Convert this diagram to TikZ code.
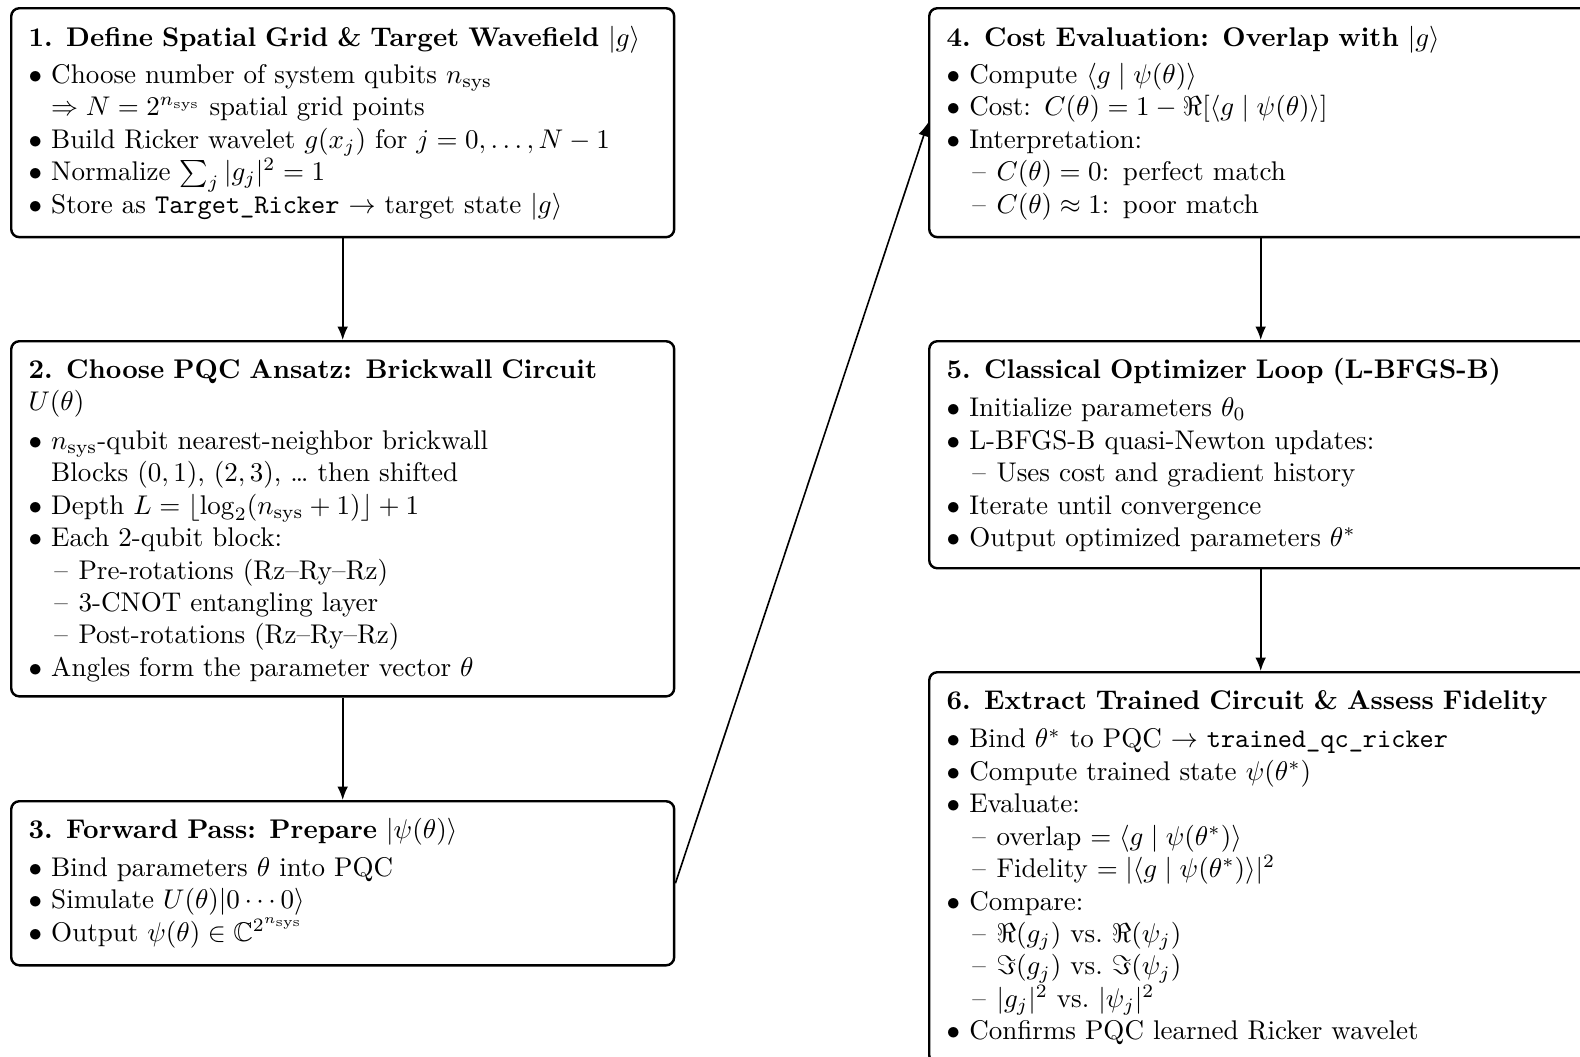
\documentclass[tikz,border=0pt]{standalone}
\usepackage{amsmath,amssymb}
\usetikzlibrary{arrows.meta}
% list helpers: bullet item, dash sub-item, continuation line
\newcommand{\bitem}{\makebox[8.4pt][l]{$\bullet$}}
\newcommand{\sitem}{\hspace*{9.6pt}\makebox[8.9pt][l]{--}}
\newcommand{\cont}{\hspace*{8.4pt}}
\newcommand{\nsys}{n_{\mathrm{sys}}}

\begin{document}
\begin{tikzpicture}[x=0.37pt,y=-0.37pt,
  stage/.style={draw=black, line width=0.9pt, rounded corners=3pt, inner sep=0pt,
                anchor=north west, minimum width=245.3pt},
  body/.style={anchor=base west, inner sep=0pt, text width=240pt, align=left, font=\normalsize},
  flow/.style={line width=0.6pt, -{Latex[length=5pt,width=4pt]}}]
\useasboundingbox (0,0) rectangle (1580,1056);
\clip (0,0) rectangle (1580,1056);

% ---- stage frames ----
\node[stage, minimum height=84.7pt]  (b1) at (10,7) {};
\node[stage, minimum height=131.4pt] (b2) at (10,340) {};
\node[stage, minimum height=60.7pt]  (b3) at (10,800) {};
\node[stage, minimum height=84.7pt]  (b4) at (928,7) {};
\node[stage, minimum height=84.0pt]  (b5) at (928,340) {};
\node[stage, minimum height=144.7pt] (b6) at (928,671) {};

% ---- stage contents ----
\node[body] (t1) at ([shift={(18,39)}]b1.north west) {%
\textbf{1. Define Spatial Grid \& Target Wavefield} $|g\rangle$\\[1.8pt]
\bitem Choose number of system qubits $\nsys$\\
\cont $\Rightarrow N = 2^{\nsys}$ spatial grid points\\
\bitem Build Ricker wavelet $g(x_j)$ for $j = 0, \ldots, N-1$\\
\bitem Normalize $\sum_j |g_j|^2 = 1$\\
\bitem Store as \texttt{Target\_Ricker} $\rightarrow$ target state $|g\rangle$};

\node[body] (t2) at ([shift={(18,38)}]b2.north west) {%
\textbf{2. Choose PQC Ansatz: Brickwall Circuit}\\
$U(\theta)$\\[2.4pt]
\bitem $\nsys$-qubit nearest-neighbor brickwall\\
\cont Blocks $(0,1)$, $(2,3)$, \ldots\ then shifted\\
\bitem Depth $L = \lfloor \log_2(\nsys + 1) \rfloor + 1$\\
\bitem Each 2-qubit block:\\
\sitem Pre-rotations (Rz--Ry--Rz)\\
\sitem 3-CNOT entangling layer\\
\sitem Post-rotations (Rz--Ry--Rz)\\
\bitem Angles form the parameter vector $\theta$};

\node[body] (t3) at ([shift={(18,38)}]b3.north west) {%
\textbf{3. Forward Pass: Prepare} $|\psi(\theta)\rangle$\\[2.2pt]
\bitem Bind parameters $\theta$ into PQC\\
\bitem Simulate $U(\theta)|0\cdots0\rangle$\\
\bitem Output $\psi(\theta) \in \mathbb{C}^{2^{\nsys}}$};

\node[body] (t4) at ([shift={(18,39)}]b4.north west) {%
\textbf{4. Cost Evaluation: Overlap with} $|g\rangle$\\[1.8pt]
\bitem Compute $\langle g \mid \psi(\theta)\rangle$\\
\bitem Cost: $C(\theta) = 1 - \Re[\langle g \mid \psi(\theta)\rangle]$\\
\bitem Interpretation:\\
\sitem $C(\theta) = 0$: perfect match\\
\sitem $C(\theta) \approx 1$: poor match};

\node[body] (t5) at ([shift={(18,38)}]b5.north west) {%
\textbf{5. Classical Optimizer Loop (L-BFGS-B)}\\[2.4pt]
\bitem Initialize parameters $\theta_0$\\
\bitem L-BFGS-B quasi-Newton updates:\\
\sitem Uses cost and gradient history\\
\bitem Iterate until convergence\\
\bitem Output optimized parameters $\theta^*$};

\node[body] (t6) at ([shift={(18,38)}]b6.north west) {%
\textbf{6. Extract Trained Circuit \& Assess Fidelity}\\[2.4pt]
\bitem Bind $\theta^*$ to PQC $\rightarrow$ \texttt{trained\_qc\_ricker}\\
\bitem Compute trained state $\psi(\theta^*)$\\
\bitem Evaluate:\\
\sitem overlap $= \langle g \mid \psi(\theta^*)\rangle$\\
\sitem Fidelity $= |\langle g \mid \psi(\theta^*)\rangle|^2$\\
\bitem Compare:\\
\sitem $\Re(g_j)$ vs.\ $\Re(\psi_j)$\\
\sitem $\Im(g_j)$ vs.\ $\Im(\psi_j)$\\
\sitem $|g_j|^2$ vs.\ $|\psi_j|^2$\\
\bitem Confirms PQC learned Ricker wavelet};

% ---- flow between stages ----
\draw[flow] (b1) -- (b2);
\draw[flow] (b2) -- (b3);
\draw[flow] (b3.east) -- (b4.west);
\draw[flow] (b4) -- (b5);
\draw[flow] (b5) -- (b6);
\end{tikzpicture}
\end{document}
